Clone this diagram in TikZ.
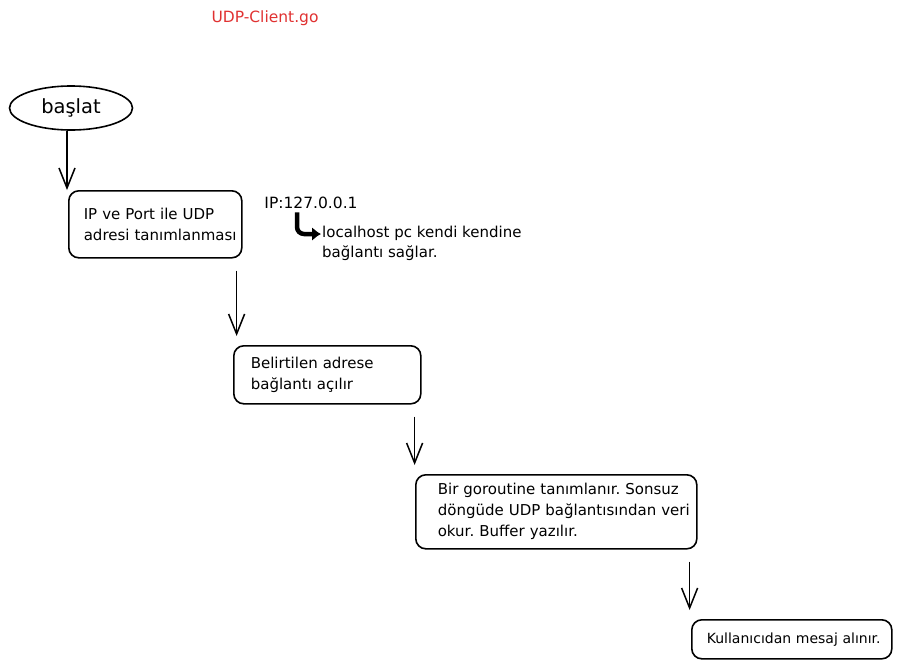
\documentclass[tikz,border=0pt]{standalone}
\usepackage{fontspec}
\setmainfont{DejaVu Sans}
\usetikzlibrary{arrows.meta}
\usetikzlibrary{shapes.geometric}
\definecolor{titlered}{HTML}{E03131}
\frenchspacing

\begin{document}
\begin{tikzpicture}[x=1pt, y=-1pt,
        box/.style={draw, line width=1.6pt, rounded corners=10pt, anchor=north west, align=left,
                    inner xsep=17pt, font=\fontsize{15}{21}\selectfont},
        flow/.style={line width=1.5pt, -{Straight Barb[length=20pt, width=16pt]}}]
                \useasboundingbox (0,0) rectangle (901,667);
                % title
                \node[text=titlered, font=\fontsize{15.5}{17}\selectfont] (title) at (265,18) {UDP-Client.go};
                % start
                \node[draw, ellipse, line width=1.6pt, minimum width=123pt, minimum height=44pt,
                      font=\fontsize{19.5}{22}\selectfont] (start) at (71,108) {başlat};
                % steps
                \node[box, minimum width=173pt, minimum height=67pt, text width=143pt, inner xsep=15pt] (addr) at (68,190)
                      {\mbox{IP ve Port ile UDP}\\\mbox{adresi tanımlanması}};
                \node[box, minimum width=187pt, minimum height=58pt, text width=153pt] (dial) at (233,345)
                      {\mbox{Belirtilen adrese}\\\mbox{bağlantı açılır}};
                \node[box, minimum width=281pt, minimum height=74pt, text width=237pt, inner xsep=22pt] (reader) at (415,474)
                      {\mbox{Bir goroutine tanımlanır. Sonsuz}\\\mbox{döngüde UDP bağlantısından veri}\\\mbox{okur. Buffer yazılır.}};
                \node[box, minimum width=200pt, minimum height=39pt, text width=170pt, inner xsep=15pt,
                      font=\fontsize{14}{20}\selectfont] (input) at (691,619)
                      {\mbox{Kullanıcıdan mesaj alınır.}};
                % note
                \node[font=\fontsize{15.5}{17}\selectfont] (ipaddr) at (311,203) {IP:127.0.0.1};
                \node[anchor=north west, align=left, inner sep=0pt, font=\fontsize{15}{20}\selectfont] (note) at (322,226)
                      {localhost pc kendi kendine\\bağlantı sağlar.};
                \draw[line width=4.5pt, rounded corners=7pt, -{Latex[length=9pt, width=14pt]}]
                      ([xshift=-14pt]ipaddr.south) |- ([xshift=-1pt, yshift=-8pt]note.north west);
                % arrows
                \draw[flow] ([xshift=-4pt]start.south) -- ([xshift=-4pt]start.south |- addr.north);
                \foreach \a/\b/\d in {addr/dial/6, dial/reader/7, reader/input/8}{
                      \draw[flow, shorten >=9pt] ([xshift=-\d pt, yshift=-12pt]\a.south east) -- ([xshift=-\d pt]\a.south east |- \b.north);}
\end{tikzpicture}
\end{document}
